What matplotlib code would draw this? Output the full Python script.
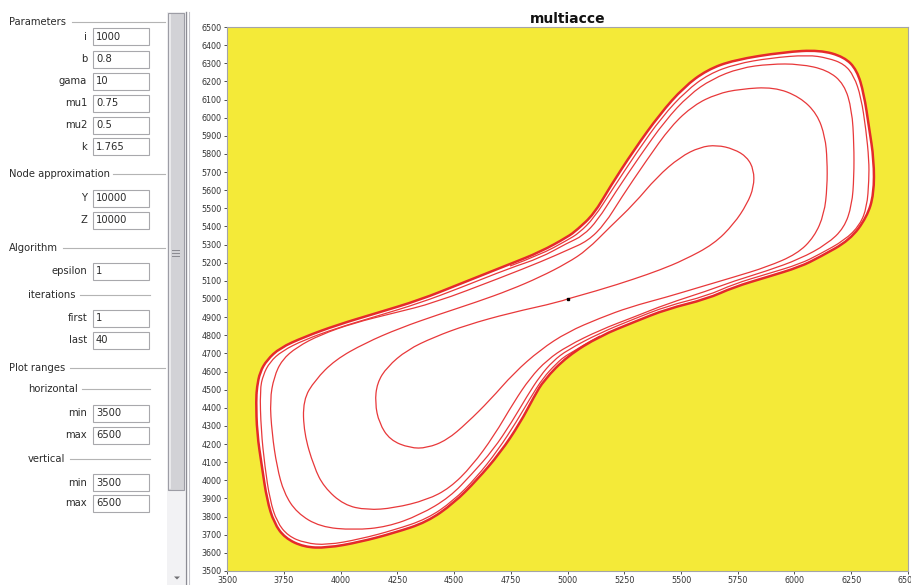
import matplotlib
matplotlib.use('Agg')
import matplotlib.pyplot as plt
from matplotlib.patches import Rectangle, Polygon, PathPatch
from matplotlib.path import Path

# ---- data ----
PARAM_NAMES = ['i', 'b', 'gama', 'mu1', 'mu2', 'k']
PARAM_VALUES = ['1000', '0.8', '10', '0.75', '0.5', '1.765']
NODE_NAMES = ['Y', 'Z']
NODE_VALUES = ['10000', '10000']
EPSILON = '1'
ITER_NAMES = ['first', 'last']
ITER_VALUES = ['1', '40']
HOR_VALUES = ['3500', '6500']
VER_VALUES = ['3500', '6500']

X_TICKS = [3500, 3750, 4000, 4250, 4500, 4750, 5000, 5250, 5500, 5750, 6000, 6250, 6500]
Y_TICKS = list(range(3500, 6501, 100))

CENTER = (5000, 5000)

# outermost (limit) curve
OUTER_X = [3632, 3645, 3676, 3733, 3839, 3985, 4161, 4350, 4526, 4747, 4879, 5000, 5042, 5117,
           5187, 5293, 5407, 5513, 5614, 5733, 5954, 6112, 6219, 6275, 6306, 6328, 6350, 6350,
           6319, 6244, 6112, 6024, 5879, 5733, 5614, 5438, 5293, 5143, 5000, 4896, 4852, 4791,
           4703, 4601, 4500, 4381, 4236, 4086, 3940, 3839, 3755, 3707, 3676, 3654, 3632, 3628]
OUTER_Y = [4515, 4597, 4664, 4730, 4790, 4857, 4923, 4995, 5083, 5193, 5259, 5342, 5381, 5469,
           5618, 5822, 6020, 6169, 6263, 6318, 6362, 6373, 6335, 6263, 6131, 5949, 5767, 5579,
           5452, 5325, 5232, 5177, 5121, 5066, 5000, 4945, 4873, 4796, 4686, 4553, 4460, 4316,
           4151, 4002, 3875, 3770, 3710, 3660, 3627, 3632, 3682, 3765, 3892, 4074, 4261, 4443]

# spiral arm leaving the centre towards the upper right
ARM_A_X = [5000, 5143, 5293, 5407, 5513, 5645, 5733, 5791, 5821, 5821, 5791, 5733, 5658, 5584,
           5496, 5394, 5293, 5187, 5086, 5000, 4879, 4747, 4601, 4438, 4262, 4108, 3976, 3888,
           3835, 3839, 3883, 3927, 4015, 4117, 4236, 4381, 4482, 4579, 4676, 4764, 4835, 4910,
           5000, 5143, 5293, 5438, 5614, 5733, 5879, 6024, 6144, 6219, 6253, 6262, 6262, 6253,
           6219, 6144, 6024, 5892, 5760, 5636, 5535, 5429, 5319, 5209, 5134, 5068, 5000, 4879,
           4747, 4526, 4350, 4161, 3985, 3839, 3742, 3689, 3659, 3645, 3650, 3667, 3689, 3720,
           3769, 3844, 3940, 4086, 4236, 4381, 4496, 4597, 4694, 4777, 4839, 4892, 4949, 5000,
           5143]
ARM_A_Y = [5000, 5050, 5110, 5160, 5215, 5303, 5414, 5524, 5618, 5712, 5783, 5827, 5849, 5838,
           5783, 5673, 5524, 5397, 5270, 5199, 5121, 5050, 4984, 4917, 4840, 4757, 4664, 4553,
           4443, 4261, 4074, 3963, 3864, 3836, 3847, 3892, 3958, 4079, 4245, 4432, 4564, 4664,
           4741, 4829, 4901, 4973, 5044, 5099, 5155, 5221, 5303, 5392, 5519, 5673, 5855, 6042,
           6186, 6263, 6296, 6296, 6274, 6213, 6125, 5982, 5789, 5585, 5436, 5348, 5309, 5226,
           5171, 5061, 4978, 4906, 4840, 4774, 4713, 4653, 4581, 4498, 4278, 4074, 3892, 3770,
           3693, 3654, 3643, 3676, 3726, 3787, 3886, 4013, 4167, 4327, 4460, 4564, 4642, 4697,
           4796]

# spiral arm leaving the centre towards the lower left
ARM_B_X = [5000, 4967, 4747, 4557, 4412, 4293, 4205, 4161, 4152, 4170, 4218, 4306, 4381, 4469,
           4557, 4659, 4764, 4879, 5000, 5143, 5275, 5438, 5584, 5733, 5879, 6011, 6087, 6131,
           6144, 6144, 6135, 6100, 6024, 5910, 5760, 5658, 5557, 5456, 5346, 5236, 5165, 5090,
           5000, 4892, 4703, 4412, 4236, 4059, 3910, 3808, 3742, 3707, 3689, 3698, 3720, 3751,
           3808, 3910, 4059, 4205, 4350, 4482, 4579, 4672, 4755, 4822, 4879, 4936, 5000, 5143,
           5293, 5438, 5614, 5733, 5879, 6024, 6112, 6222, 6288, 6319, 6328, 6328, 6315, 6293,
           6262, 6219, 6147, 6059, 5892, 5742, 5623, 5522, 5416, 5306, 5196, 5117, 5051, 5000,
           4879, 4747]
ARM_B_Y = [5000, 4984, 4923, 4857, 4790, 4719, 4625, 4537, 4427, 4316, 4222, 4178, 4178, 4222,
           4316, 4443, 4592, 4719, 4818, 4895, 4956, 5011, 5066, 5121, 5177, 5248, 5342, 5469,
           5618, 5767, 5894, 6020, 6114, 6169, 6158, 6131, 6070, 5954, 5761, 5557, 5414, 5320,
           5270, 5210, 5116, 4978, 4923, 4868, 4802, 4735, 4664, 4570, 4443, 4261, 4074, 3930,
           3820, 3743, 3726, 3743, 3809, 3908, 4035, 4167, 4322, 4465, 4575, 4658, 4719, 4813,
           4890, 4961, 5017, 5083, 5138, 5193, 5248, 5325, 5408, 5507, 5656, 5767, 5932, 6114,
           6230, 6296, 6329, 6346, 6329, 6296, 6241, 6147, 6004, 5811, 5601, 5447, 5364, 5325,
           5243, 5182]

plt.rcParams['font.family'] = ['DejaVu Sans']

W, H = 911, 585
fig = plt.figure(figsize=(W / 100, H / 100), dpi=100)
fig.patch.set_facecolor('white')

# ---- left control panel, drawn in pixel coordinates ----
panel = fig.add_axes([0, 0, 1, 1])
panel.set_xlim(0, W)
panel.set_ylim(H, 0)
panel.axis('off')

TXT = '#2b2b2b'
FS = 7.2


def header(text, x, y, x0, x1):
    panel.text(x, y, text, ha='left', va='center', fontsize=FS, color=TXT)
    panel.plot([x0, x1], [y, y], color='#b4b4b4', lw=0.8)


def field(label, value, y):
    panel.text(87, y, label, ha='right', va='center', fontsize=FS, color=TXT)
    panel.add_patch(Rectangle((93, y - 8.5), 56, 17, facecolor='white',
                              edgecolor='#a8a8ac', lw=0.8))
    panel.text(96, y, value, ha='left', va='center', fontsize=FS, color=TXT)


header('Parameters', 9, 22, 72, 165)
for name, val, y in zip(PARAM_NAMES, PARAM_VALUES, [36.5, 59, 81.5, 103, 125, 146.5]):
    field(name, val, y)

header('Node approximation', 9, 174, 113, 165)
for name, val, y in zip(NODE_NAMES, NODE_VALUES, [198, 220]):
    field(name, val, y)

header('Algorithm', 9, 248, 63, 165)
field('epsilon', EPSILON, 271.5)
header('iterations', 28, 295, 80, 150)
for name, val, y in zip(ITER_NAMES, ITER_VALUES, [318, 340]):
    field(name, val, y)

header('Plot ranges', 9, 368, 70, 165)
header('horizontal', 28, 389, 82, 150)
for name, val, y in zip(['min', 'max'], HOR_VALUES, [413.5, 435]):
    field(name, val, y)
header('vertical', 28, 459, 70, 150)
for name, val, y in zip(['min', 'max'], VER_VALUES, [482.5, 503.5]):
    field(name, val, y)

# scrollbar and split divider
panel.add_patch(Rectangle((167, 12), 18, 573, facecolor='#f2f2f4', edgecolor='none'))
panel.add_patch(Rectangle((168, 13), 16, 477, facecolor='#d2d2d6', edgecolor='#9d9da5', lw=0.8))
panel.plot([170, 170], [15, 488], color='#eeeef0', lw=1.2)
for gy in [250, 253, 256]:
    panel.plot([172, 179], [gy, gy], color='#8a8a90', lw=0.7)
panel.add_patch(Polygon([[174, 576.5], [180, 576.5], [177, 579.5]], closed=True,
                        facecolor='#707074', edgecolor='none'))
panel.plot([186, 186], [12, 585], color='#8c8c94', lw=1.0)
panel.plot([189, 189], [12, 585], color='#c4c4ca', lw=0.8)


# smooth curve through the read points: each point acts as a quadratic
# Bezier control point, so matplotlib draws rounded joins instead of corners
def smooth_path(xs, ys, closed=False):
    pts = list(zip(xs, ys))
    n = len(pts)

    def mid(p, q):
        return ((p[0] + q[0]) / 2, (p[1] + q[1]) / 2)

    if closed:
        verts = [mid(pts[-1], pts[0])]
        codes = [Path.MOVETO]
        for k in range(n):
            verts += [pts[k], mid(pts[k], pts[(k + 1) % n])]
            codes += [Path.CURVE3, Path.CURVE3]
        codes[-1] = Path.CURVE3
    else:
        verts = [pts[0]]
        codes = [Path.MOVETO]
        for k in range(1, n - 1):
            end = pts[k + 1] if k == n - 2 else mid(pts[k], pts[k + 1])
            verts += [pts[k], end]
            codes += [Path.CURVE3, Path.CURVE3]
    return Path(verts, codes)


# ---- chart ----
ax = fig.add_axes([227 / W, 14 / H, 681 / W, 544 / H])
ax.set_facecolor('#f4ea38')

outer = smooth_path(OUTER_X, OUTER_Y, closed=True)
ax.add_patch(PathPatch(outer, facecolor='white', edgecolor='none', zorder=1))

RED = '#e8383a'
ax.add_patch(PathPatch(smooth_path(ARM_A_X, ARM_A_Y), facecolor='none',
                       edgecolor=RED, lw=0.9, zorder=2))
ax.add_patch(PathPatch(smooth_path(ARM_B_X, ARM_B_Y), facecolor='none',
                       edgecolor=RED, lw=0.9, zorder=2))
ax.add_patch(PathPatch(outer, facecolor='none', edgecolor='#e52a2a', lw=1.8, zorder=3))
ax.plot([CENTER[0]], [CENTER[1]], marker='s', ms=2, color='black', zorder=4)

ax.set_xlim(3500, 6500)
ax.set_ylim(3500, 6500)
ax.set_xticks(X_TICKS)
ax.set_yticks(Y_TICKS)
ax.tick_params(labelsize=5.8, colors='#333333', length=2.5, width=0.6, pad=1.5)
ax.tick_params(axis='x', pad=1)
for s in ax.spines.values():
    s.set_color('#a4a4a8')
    s.set_linewidth(0.8)
ax.set_title('multiacce', fontsize=10, fontweight='bold', pad=3, color='#111111')

fig.savefig('out.png', dpi=100)
